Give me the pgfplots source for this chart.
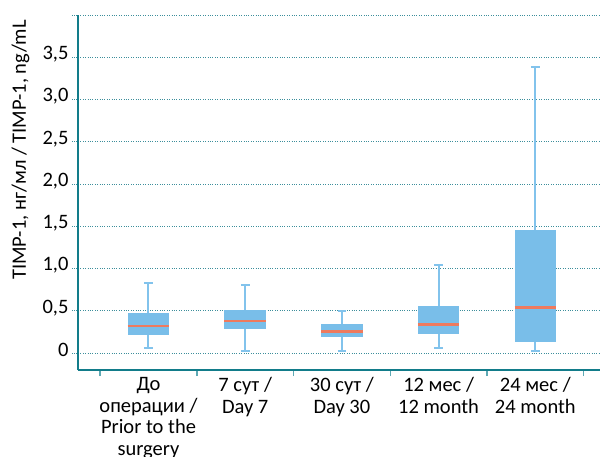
\documentclass[border=0pt]{standalone}
\usepackage{fontspec}
\setmainfont{Carlito}
\usepackage{pgfplots}
\pgfplotsset{compat=1.18}
\usepgfplotslibrary{statistics}
\definecolor{axisteal}{HTML}{127C8A}
\definecolor{gridteal}{HTML}{3C8E9B}
\definecolor{boxblue}{HTML}{79BEE9}
\definecolor{whiskblue}{HTML}{82C3EC}
\definecolor{medred}{HTML}{EE7A5E}
\definecolor{ticklight}{HTML}{5FA9B4}

\begin{document}
\begin{tikzpicture}
\begin{axis}[
  scale only axis, width=522pt, height=355pt,
  xmin=-0.729, xmax=4.669, ymin=-0.2, ymax=4.0,
  axis x line*=bottom, axis y line*=left,
  axis line style={draw=axisteal, line width=2.4pt},
  tick align=outside,
  font=\fontsize{20.5}{21.5}\selectfont,
  xtick={0,1,2,3,4},
  xticklabels={{До\\операции /\\Prior to the\\surgery},{7 сут /\\Day 7},{30 сут /\\Day 30},{12 мес /\\12 month},{24 мес /\\24 month}},
  xticklabel style={align=center, anchor=north, font=\fontsize{20.5}{21.5}\selectfont, yshift=2pt},
  major x tick style={draw=none},
  minor xtick={-0.5,0.5,1.5,2.5,3.5,4.5},
  minor x tick style={draw=ticklight, line width=1.5pt},
  minor tick length=6pt,
  major tick length=6pt,
  ytick={0,0.5,1,1.5,2,2.5,3,3.5,4},
  yticklabels={0,{0,5},{1,0},{1,5},{2,0},{2,5},{3,0},{3,5},{}},
  yticklabel style={font=\fontsize{20.5}{21.5}\selectfont, yshift=3pt},
  y tick style={draw=gridteal, dotted, line width=0.9pt},
  ymajorgrids,
  major y grid style={draw=gridteal, dotted, line width=0.9pt},
  ylabel={TIMP-1, нг/мл / TIMP-1, ng/mL},
  ylabel style={at={(axis description cs:-0.110,0.62)}, anchor=center, font=\fontsize{20.5}{21.5}\selectfont},
  boxplot/draw direction=y,
  boxplot/box extend=0.43,
  boxplot/whisker extend=0.09,
  boxplot/every box/.style={fill=boxblue, draw=none},
  boxplot/every whisker/.style={draw=whiskblue, line width=2pt},
  boxplot/every median/.style={draw=medred, line width=2.8pt},
]
% Prior to the surgery
\addplot[boxplot prepared={draw position=0, lower whisker=0.056, lower quartile=0.22, median=0.32, upper quartile=0.47, upper whisker=0.83}] coordinates {};
% Day 7
\addplot[boxplot prepared={draw position=1, lower whisker=0.02, lower quartile=0.29, median=0.38, upper quartile=0.51, upper whisker=0.80}] coordinates {};
% Day 30
\addplot[boxplot prepared={draw position=2, lower whisker=0.03, lower quartile=0.19, median=0.26, upper quartile=0.34, upper whisker=0.50}] coordinates {};
% 12 month
\addplot[boxplot prepared={draw position=3, lower whisker=0.056, lower quartile=0.23, median=0.34, upper quartile=0.56, upper whisker=1.04}] coordinates {};
% 24 month
\addplot[boxplot prepared={draw position=4, lower whisker=0.03, lower quartile=0.13, median=0.54, upper quartile=1.46, upper whisker=3.39}] coordinates {};
\end{axis}
\pgfresetboundingbox
\path (-78pt,-86pt) rectangle (523pt,370pt);
\end{tikzpicture}
\end{document}
